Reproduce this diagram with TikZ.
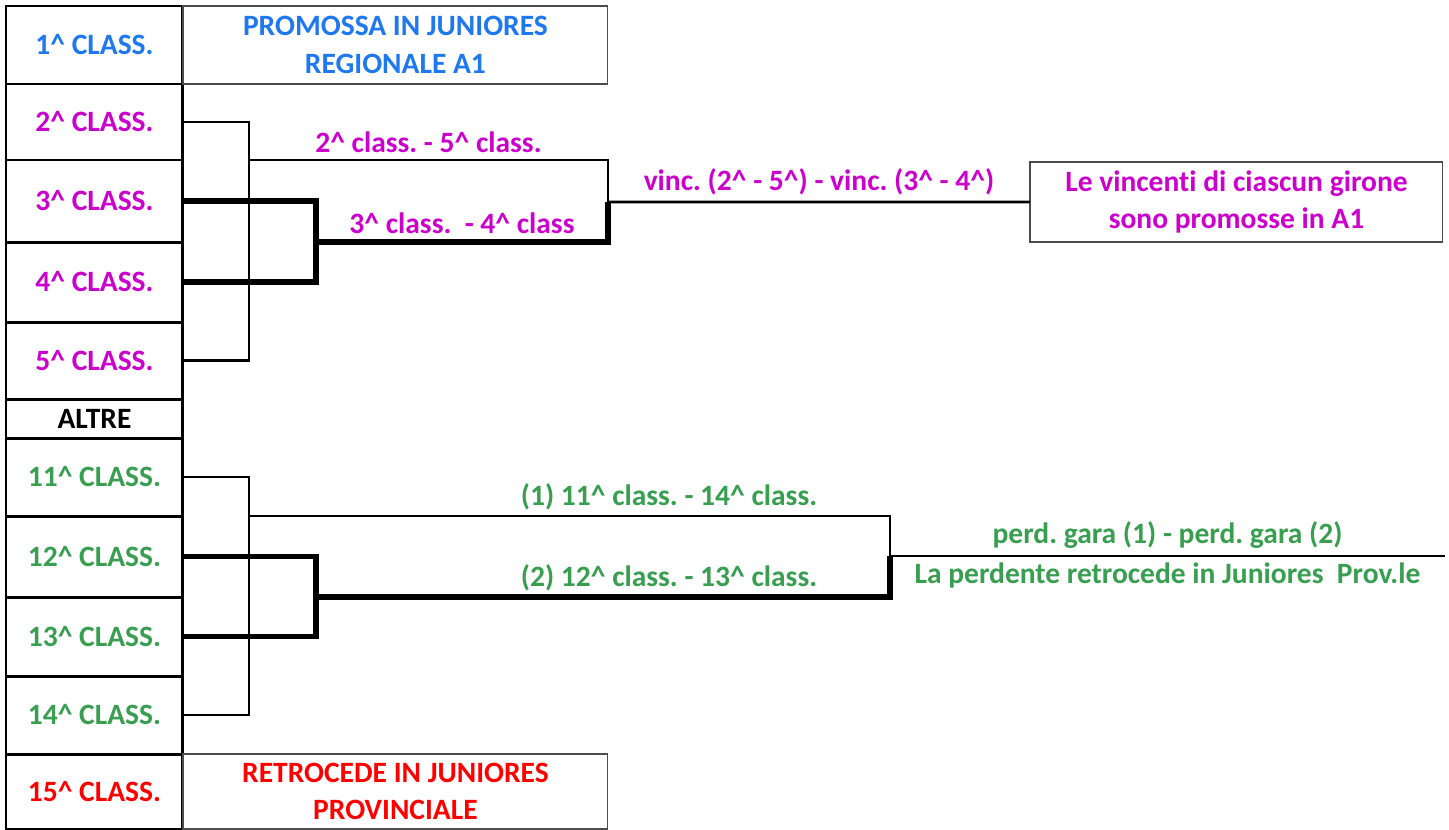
\documentclass[tikz,border=0pt]{standalone}
\usepackage{fontspec}
\setmainfont{Carlito}[Ligatures=NoCommon]
\usepackage{xcolor}
\usetikzlibrary{positioning}
\definecolor{blu}{RGB}{30,120,240}
\definecolor{viola}{RGB}{204,0,204}
\definecolor{verde}{RGB}{56,158,80}
\definecolor{rosso}{RGB}{255,0,0}
\newcommand{\cl}[1]{#1\textasciicircum{}}
\frenchspacing
\begin{document}
\begin{tikzpicture}[x=0.02cm,y=-0.02cm,
  font=\bfseries\fontsize{16.8}{21.5}\selectfont,
  cella/.style={draw,line width=1.7pt,minimum width=3.54cm,inner sep=0pt,outer sep=0pt,anchor=north west},
  esito/.style={draw=black!70,line width=0.6pt,minimum width=8.5cm,inner sep=0pt,outer sep=0pt,anchor=north west,align=center},
  filo/.style={line width=1.6pt},
  grosso/.style={line width=3pt}]
\useasboundingbox (0,0) rectangle (1449,829);
% colonna classifica
\foreach \n/\y/\h/\c in {1/6/78/blu,2/84/76/viola,3/160/82/viola,4/242/80/viola,5/322/77/viola,
  11/438/78/verde,12/516/81/verde,13/597/79/verde,14/676/78/verde,15/754/75/rosso}{
\node[cella,minimum height=\h*0.02cm,text=\c] (r\n) at (6,\y) {\cl{\n} CLASS.};
}
\node[cella,minimum height=0.78cm] (altre) at (6,399) {ALTRE};
% esiti
\node[esito,minimum height=1.56cm,text=blu] (promo) at (183,6) {PROMOSSA IN JUNIORES\\REGIONALE A1};
\node[esito,minimum height=1.5cm,text=rosso] (retro) at (183,754) {RETROCEDE IN JUNIORES\\PROVINCIALE};
\node[esito,minimum width=8.26cm,minimum height=1.6cm,text=viola] (vinc) at (1030,162) {Le vincenti di ciascun girone\\sono promosse in A1};
% play-off
\coordinate (q25) at (249,160);
\coordinate (q34) at (316,242);
\coordinate (sf) at (608,202);
\draw[filo] (r2.east) -- ++(66,0) |- (r5.east);
\draw[grosso] (r3.east) -- ++(133,0) |- (r4.east);
\draw[filo] (q25) -| (sf) node[pos=0.25,above,text=viola] (l25) {\cl{2} class. - \cl{5} class.};
\draw[grosso] (q34) -| (sf) node[pos=0.25,above,text=viola] (l34) {\cl{3} class.\ \ - \cl{4} class};
\draw[filo] (sf) -- (vinc.west) node[midway,above,text=viola] (lf) {vinc. (\cl{2} - \cl{5}) - vinc. (\cl{3} - \cl{4})};
% play-out
\coordinate (q1114) at (249,516);
\coordinate (q1213) at (316,597);
\coordinate (so) at (890,556);
\coordinate (fine) at (1445,556);
\draw[filo] (r11.east) -- ++(66,0) |- (r14.east);
\draw[grosso] (r12.east) -- ++(133,0) |- (r13.east);
\draw[filo] (q1114) -| (so);
\draw[grosso] (q1213) -| (so);
\node[above,text=verde] (l1) at (669,516) {(1) \cl{11} class. - \cl{14} class.};
\node[above,text=verde] (l2) at (669,597) {(2) \cl{12} class. - \cl{13} class.};
\draw[filo] (so) -- (fine) node[midway,above,text=verde] (lp) {perd. gara (1) - perd. gara (2)}
  node[midway,below,text=verde] (lr) {La perdente retrocede in Juniores\ \ Prov.le};
\end{tikzpicture}
\end{document}
